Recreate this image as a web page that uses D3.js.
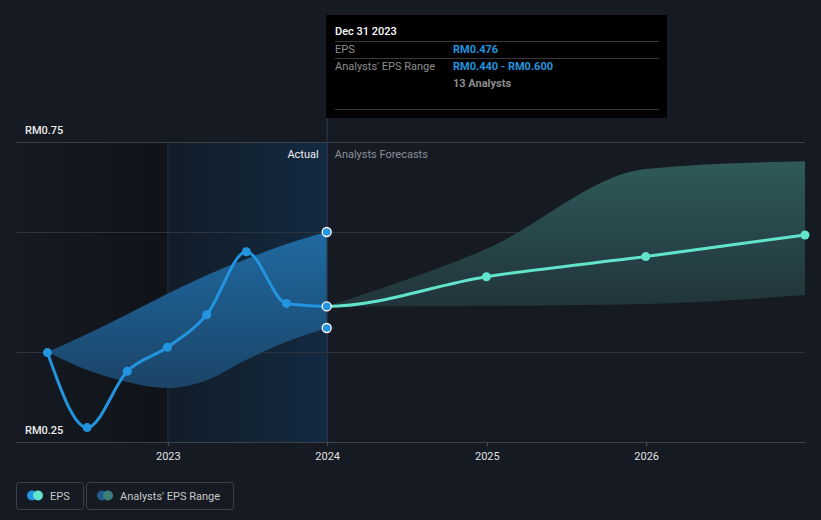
<!DOCTYPE html>
<html>
<head>
<meta charset="utf-8">
<script src="https://cdn.jsdelivr.net/npm/d3@7"></script>
<style>
  html, body { margin: 0; padding: 0; background: #151a23; }
  svg { display: block; font-family: Roboto, "Noto Sans", sans-serif; }
</style>
</head>
<body>
<svg id="chart" width="821" height="520"></svg>
<script>
// ---- data ----
const epsDates = ["2022-03-31","2022-06-30","2022-09-30","2022-12-31","2023-03-31","2023-06-30","2023-09-30","2023-12-31"];
const epsValues = [0.399, 0.274, 0.368, 0.408, 0.462, 0.567, 0.481, 0.476];
const pastRangeHigh = [0.400, 0.430, 0.463, 0.497, 0.528, 0.555, 0.580, 0.600];
const pastRangeLow  = [0.400, 0.370, 0.350, 0.340, 0.353, 0.387, 0.417, 0.440];
const forecastDates = ["2023-12-31","2024-12-31","2025-12-31","2026-12-31"];
const forecastValues = [0.476, 0.5255, 0.559, 0.595];
const forecastHigh = [0.476, 0.572, 0.705, 0.718];
const forecastLow  = [0.476, 0.477, 0.480, 0.495];
const yTickValues = [0.25, 0.75];
const yTickLabels = ["RM0.25", "RM0.75"];
const yGridValues = [0.4, 0.6];
const xTickYears = [2023, 2024, 2025, 2026];
const tooltipRows = [["EPS", "RM0.476"], ["Analysts' EPS Range", "RM0.440 - RM0.600"]];

const parse = d3.timeParse("%Y-%m-%d");
const svg = d3.select("#chart");
const defs = svg.append("defs");

const x = d3.scaleTime().domain([new Date(2022,0,18), new Date(2026,11,31)]).range([16, 805]);
const y = d3.scaleLinear().domain([0.25, 0.75]).range([442, 142]);

const nowDate = parse("2023-12-31");
const yearStart = new Date(2023,0,1);

// gradients
const g1 = defs.append("linearGradient").attr("id","leftShade").attr("x1","0").attr("x2","1").attr("y1","0").attr("y2","0");
g1.append("stop").attr("offset","0").attr("stop-color","#151a23");
g1.append("stop").attr("offset","1").attr("stop-color","#101318");
const g2 = defs.append("linearGradient").attr("id","pastShade").attr("x1","0").attr("x2","1").attr("y1","0").attr("y2","0");
g2.append("stop").attr("offset","0").attr("stop-color","#121c28");
g2.append("stop").attr("offset","1").attr("stop-color","#132a41");
const g3 = defs.append("linearGradient").attr("id","pastBand").attr("gradientUnits","userSpaceOnUse")
  .attr("x1",0).attr("x2",0).attr("y1",y(0.6)).attr("y2",y(0.34));
g3.append("stop").attr("offset","0").attr("stop-color","#1f6aa2");
g3.append("stop").attr("offset","1").attr("stop-color","#1b4467");
const g4 = defs.append("linearGradient").attr("id","foreBand").attr("gradientUnits","userSpaceOnUse")
  .attr("x1",0).attr("x2",0).attr("y1",y(0.72)).attr("y2",y(0.476));
g4.append("stop").attr("offset","0").attr("stop-color","#2f5a5a");
g4.append("stop").attr("offset","1").attr("stop-color","#21343a");
defs.append("clipPath").attr("id","foreClip").append("rect")
  .attr("x", x(nowDate)).attr("y", 0).attr("width", 821 - x(nowDate)).attr("height", 520);

// background shaded regions
svg.append("rect").attr("x", x.range()[0]).attr("y", y(0.75)).attr("width", x(yearStart)-x.range()[0])
  .attr("height", y(0.25)-y(0.75)).attr("fill","url(#leftShade)");
svg.append("rect").attr("x", x(yearStart)).attr("y", y(0.75)).attr("width", x(nowDate)-x(yearStart))
  .attr("height", y(0.25)-y(0.75)).attr("fill","url(#pastShade)");
svg.append("line").attr("x1", x(yearStart)).attr("x2", x(yearStart)).attr("y1", y(0.75)).attr("y2", y(0.25))
  .attr("stroke","#1b3550").attr("stroke-width",1);

// gridlines
yGridValues.forEach(v => {
  svg.append("line").attr("x1",16).attr("x2",805).attr("y1",Math.round(y(v))+0.5).attr("y2",Math.round(y(v))+0.5)
    .attr("stroke","#2c333d").attr("stroke-width",1);
});
svg.append("line").attr("x1",16).attr("x2",805).attr("y1",y(0.75)+0.5).attr("y2",y(0.75)+0.5)
  .attr("stroke","#3b414b").attr("stroke-width",1);

// bands
const pastData = epsDates.map((d,i)=>({d:parse(d), hi:pastRangeHigh[i], lo:pastRangeLow[i]}));
const foreData = forecastDates.map((d,i)=>({d:parse(d), hi:forecastHigh[i], lo:forecastLow[i], v:forecastValues[i]}));
const area = d3.area().x(p=>x(p.d)).y0(p=>y(p.lo)).y1(p=>y(p.hi)).curve(d3.curveMonotoneX);
svg.append("path").datum(pastData).attr("d", area).attr("fill","url(#pastBand)");
svg.append("path").datum(foreData).attr("d", area).attr("fill","url(#foreBand)");

// now line
svg.append("line").attr("x1", x(nowDate)+0.5).attr("x2", x(nowDate)+0.5).attr("y1", 118).attr("y2", y(0.25))
  .attr("stroke","#2b3e53").attr("stroke-width",1);

// x axis
const xAxis = d3.axisBottom(x).tickValues(xTickYears.map(yr=>new Date(yr,0,1))).tickFormat(d3.timeFormat("%Y")).tickSize(4).tickSizeOuter(0);
const ax = svg.append("g").attr("transform",`translate(0,${y(0.25)+0.5})`).call(xAxis);
ax.select(".domain").attr("stroke","#3c424c").attr("d", `M16,0H805`);
ax.selectAll(".tick line").attr("stroke","#4a505a");
ax.selectAll(".tick text").attr("fill","#e0e0e0").attr("font-size",11).attr("dy","0.95em").attr("font-family","Roboto, sans-serif");

// y labels
yTickValues.forEach((v,i)=>{
  svg.append("text").attr("x",25).attr("y",y(v)-8).attr("fill","#ececec").attr("font-size",11).attr("font-weight",500).text(yTickLabels[i]);
});

// Actual / Forecast labels
svg.append("text").attr("x", x(nowDate)-8).attr("y",158).attr("text-anchor","end").attr("fill","#f0f0f0").attr("font-size",11).text("Actual");
svg.append("text").attr("x", x(nowDate)+8).attr("y",158).attr("fill","#8a9099").attr("font-size",11).text("Analysts Forecasts");

// lines
const epsData = epsDates.map((d,i)=>({d:parse(d), v:epsValues[i]}));
const line = d3.line().x(p=>x(p.d)).y(p=>y(p.v)).curve(d3.curveMonotoneX);
// forecast line continues from the previous actual point so it leaves the last actual smoothly; clipped to the forecast side
const foreLineData = [epsData[epsData.length-2]].concat(foreData);
svg.append("path").datum(foreLineData).attr("d", line).attr("fill","none").attr("stroke","#62e3cb").attr("stroke-width",3)
  .attr("clip-path","url(#foreClip)");
svg.append("path").datum(epsData).attr("d", line).attr("fill","none").attr("stroke","#2394df").attr("stroke-width",3);

// points
svg.selectAll(".fp").data(foreData.slice(1)).enter().append("circle")
  .attr("cx",p=>x(p.d)).attr("cy",p=>y(p.v)).attr("r",4.5).attr("fill","#62e3cb");
svg.selectAll(".ep").data(epsData.slice(0,-1)).enter().append("circle")
  .attr("cx",p=>x(p.d)).attr("cy",p=>y(p.v)).attr("r",4.5).attr("fill","#2394df");
const nowPts = [epsValues[epsValues.length-1], pastRangeHigh[pastRangeHigh.length-1], pastRangeLow[pastRangeLow.length-1]];
svg.selectAll(".np").data(nowPts).enter().append("circle")
  .attr("cx", x(nowDate)).attr("cy", v=>y(v)).attr("r",4.5).attr("fill","#2394df").attr("stroke","#ffffff").attr("stroke-width",1.3);

// tooltip
const tt = svg.append("g");
tt.append("rect").attr("x",326).attr("y",15).attr("width",341).attr("height",103).attr("fill","#000000");
tt.append("text").attr("x",335).attr("y",35).attr("fill","#ffffff").attr("font-size",11).attr("font-weight",500).text("Dec 31 2023");
[41.5, 58.5, 109.5].forEach(yy=>{
  tt.append("line").attr("x1",335).attr("x2",659).attr("y1",yy).attr("y2",yy).attr("stroke","#3a3a3a").attr("stroke-width",1);
});
tooltipRows.forEach((r,i)=>{
  const by = 53 + i*17;
  tt.append("text").attr("x",335).attr("y",by).attr("fill","#8c8c8c").attr("font-size",11).text(r[0]);
  tt.append("text").attr("x",453).attr("y",by).attr("fill","#2394df").attr("font-size",11).attr("font-weight",700).text(r[1]);
});
tt.append("text").attr("x",453).attr("y",87).attr("fill","#8c8c8c").attr("font-size",11).attr("font-weight",700).text("13 Analysts");

// legend
const legendItems = [
  {label:"EPS", x:16, w:67, c1:"#2394df", c2:"#62e3cb"},
  {label:"Analysts' EPS Range", x:86, w:147, c1:"#1f5a8b", c2:"#3a8079"}
];
legendItems.forEach(it=>{
  const g = svg.append("g");
  g.append("rect").attr("x",it.x+0.5).attr("y",482.5).attr("width",it.w).attr("height",27).attr("rx",3)
    .attr("fill","none").attr("stroke","#3b424d");
  g.append("circle").attr("cx",it.x+16).attr("cy",495.5).attr("r",5).attr("fill",it.c1);
  g.append("circle").attr("cx",it.x+22).attr("cy",495.5).attr("r",5).attr("fill",it.c2);
  g.append("text").attr("x",it.x+34).attr("y",499.5).attr("fill","#c8c8c8").attr("font-size",11).text(it.label);
});
</script>
</body>
</html>
